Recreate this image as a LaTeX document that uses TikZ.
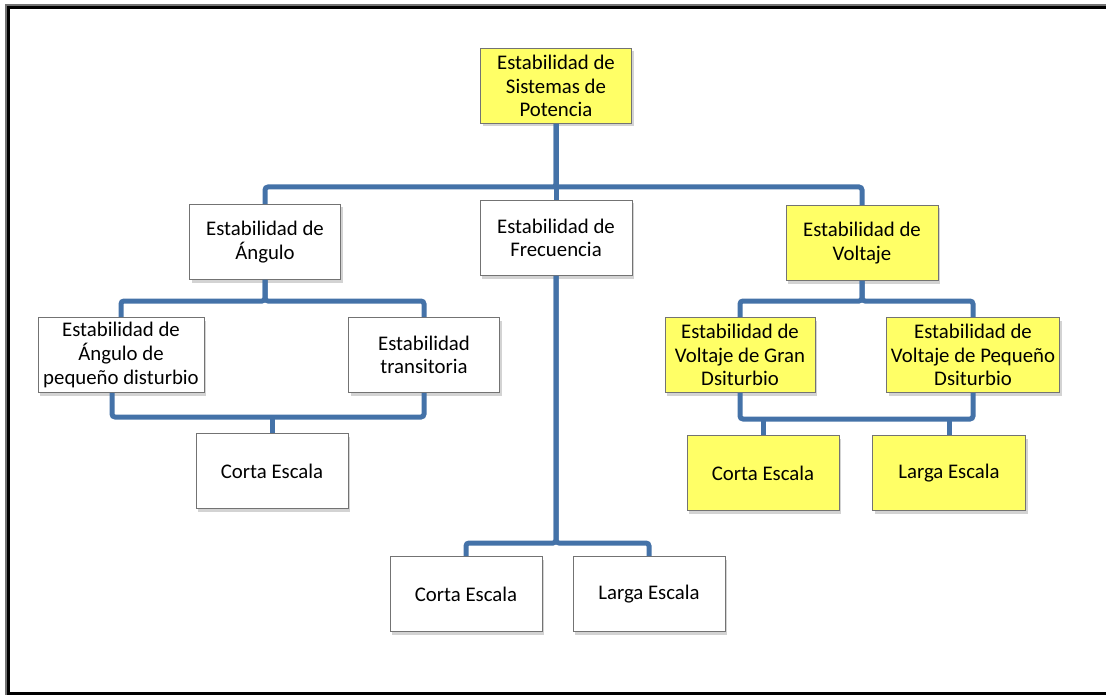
\documentclass[tikz,border=0pt]{standalone}
\usepackage{fontspec}
\setmainfont{Carlito}
\usetikzlibrary{shadows}

\definecolor{linkblue}{RGB}{68,114,168}
\definecolor{boxyellow}{RGB}{255,255,102}

\tikzstyle{box}=[rectangle,draw=black!55,line width=0.8pt,fill=white,minimum height=75pt,inner sep=2pt,align=center,font=\fontsize{20.8}{23.7}\selectfont,drop shadow={shadow xshift=2pt,shadow yshift=-3pt,opacity=0.35}]
\tikzstyle{yellow box}=[box,fill=boxyellow]
\tikzstyle{edge}=[draw,line width=5pt,linkblue,rounded corners=3pt]

\begin{document}
\begin{tikzpicture}[x=1pt,y=-1pt]
  \useasboundingbox (0,0) rectangle (1106,695);
  % outer frame, open to the right
  \draw[black!55,line width=2pt] (1106,5) -- (6,5) -- (6,695);
  \draw[black,line width=3pt] (1106,7.5) -- (8.5,7.5) -- (8.5,693.5) -- (1106,693.5);

  % First we draw the boxes
  \foreach \pos/\name/\bw/\txt in {
    {(265,242)/ang/151/{Estabilidad de\\Ángulo}},
    {(556,238)/frec/152/{Estabilidad de\\Frecuencia}},
    {(121,355)/angp/166/{Estabilidad de\\Ángulo de\\pequeño disturbio}},
    {(424,355)/trans/151/{Estabilidad\\transitoria}},
    {(272,471)/cortaA/152/{Corta Escala}},
    {(466,594)/cortaF/152/{Corta Escala}},
    {(649,594)/largaF/152/{Larga Escala}}}
    \node[box,minimum width=\bw pt] (\name) at \pos {\txt};

  \foreach \pos/\name/\bw/\txt in {
    {(556,86)/root/151/{Estabilidad de\\Sistemas de\\Potencia}},
    {(862,243)/volt/152/{Estabilidad de\\Voltaje}},
    {(740,355)/voltg/150/{Estabilidad de\\Voltaje de Gran\\Dsiturbio}},
    {(973,355)/voltp/173/{Estabilidad de\\Voltaje de Pequeño\\Dsiturbio}},
    {(763,473)/cortaV/152/{Corta Escala}},
    {(949,473)/largaV/153/{Larga Escala}}}
    \node[yellow box,minimum width=\bw pt] (\name) at \pos {\txt};

  % bus levels
  \coordinate (bus1) at (556,187);
  \coordinate (bus2) at (267,301);
  \coordinate (bus3) at (272,417);
  \coordinate (bus4) at (556,543);
  \coordinate (bus5) at (862,301);
  \coordinate (bus6) at (862,419);

  % Connect boxes
  \foreach \dest in {ang,frec,volt}
    \path[edge] (root.south) -- (root.south |- bus1) -| (\dest.north);
  \foreach \dest in {angp,trans}
    \path[edge] (ang.south) -- (ang.south |- bus2) -| (\dest.north);
  \foreach \dest in {cortaF,largaF}
    \path[edge] (frec.south) -- (frec.south |- bus4) -| (\dest.north);
  \foreach \dest in {voltg,voltp}
    \path[edge] (volt.south) -- (volt.south |- bus5) -| (\dest.north);

  \path[edge] ([xshift=-9pt]angp.south) |- (trans.south |- bus3) -- (trans.south);
  \path[edge] (cortaA.north |- bus3) -- (cortaA.north);
  \path[edge] (voltg.south) |- (voltp.south |- bus6) -- (voltp.south);
  \foreach \dest in {cortaV,largaV}
    \path[edge] (\dest.north |- bus6) -- (\dest.north);
\end{tikzpicture}
\end{document}
